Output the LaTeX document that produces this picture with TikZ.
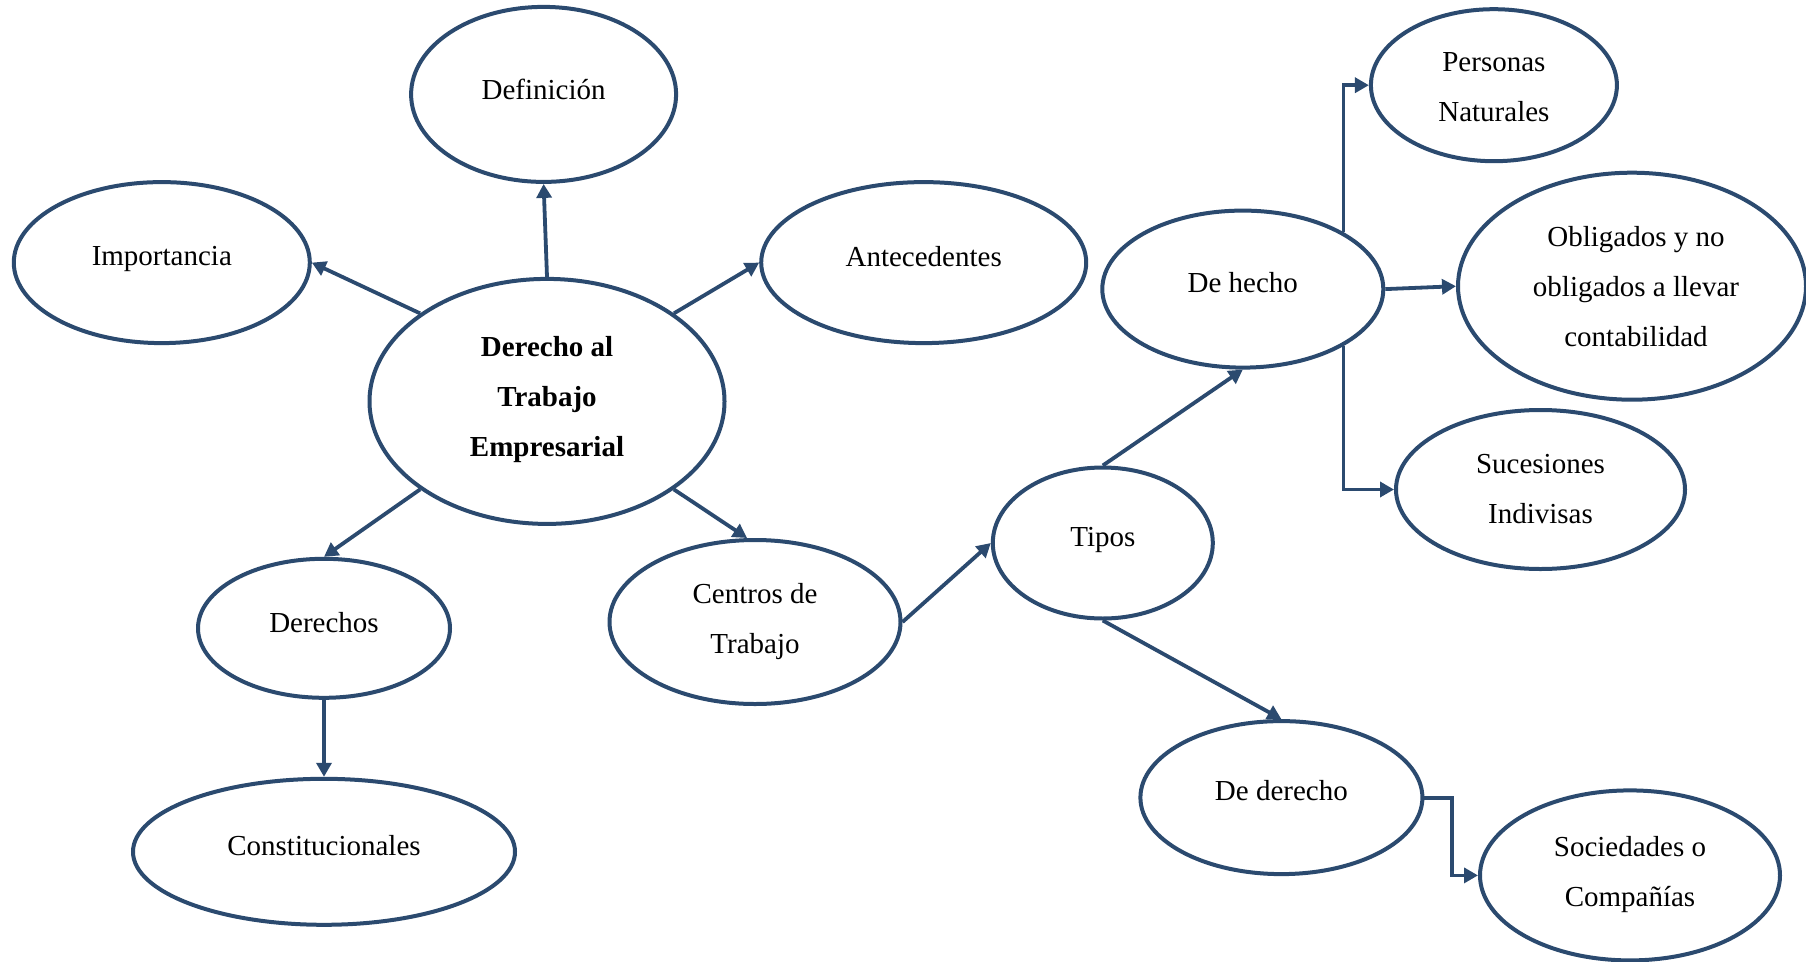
\documentclass[tikz,border=0pt]{standalone}
\usepackage{fontspec}
\setmainfont{Liberation Serif}
\usetikzlibrary{shapes.geometric,arrows.meta}
\definecolor{navy}{HTML}{2B4A6F}
\tikzset{
  bub/.style={draw=navy, line width=4pt, ellipse, inner sep=0pt, fill=white},
  lbl/.style={font=\fontsize{29}{50}\selectfont, align=center, inner sep=0pt, text=black},
  arr/.style={draw=navy, line width=3.8pt, -{Triangle[length=14pt,width=15pt]}},
}
\begin{document}
\begin{tikzpicture}[x=1pt,y=-1pt]
\useasboundingbox (0,0) rectangle (1806,961);
% ellipses
\node[bub, minimum width=265pt, minimum height=175pt] (def) at (543.6,94.4) {};
\node[bub, minimum width=296pt, minimum height=161pt] (imp) at (161.8,262.6) {};
\node[bub, minimum width=355pt, minimum height=245pt] (main) at (547,401.4) {};
\node[bub, minimum width=325pt, minimum height=161pt] (ant) at (923.7,262.6) {};
\node[bub, minimum width=252pt, minimum height=139pt] (der) at (324,628.3) {};
\node[bub, minimum width=382pt, minimum height=146pt] (con) at (324,851.8) {};
\node[bub, minimum width=291pt, minimum height=164pt] (cen) at (755,622) {};
\node[bub, minimum width=220pt, minimum height=151pt] (tip) at (1102.8,543) {};
\node[bub, minimum width=281pt, minimum height=157pt] (dh) at (1242.8,289.1) {};
\node[bub, minimum width=246pt, minimum height=152pt] (pn) at (1493.9,85.2) {};
\node[bub, minimum width=348pt, minimum height=227pt] (ob) at (1632,286.2) {};
\node[bub, minimum width=289pt, minimum height=159pt] (si) at (1540.5,489.5) {};
\node[bub, minimum width=282pt, minimum height=153pt] (dd) at (1281.4,797.6) {};
\node[bub, minimum width=300pt, minimum height=170pt] (so) at (1630,875.4) {};
% labels
\node[lbl] (def-t) at ([yshift=5pt]def.center) {Definición};
\node[lbl] (imp-t) at ([yshift=4pt]imp.center) {Importancia};
\node[lbl, font=\fontsize{29}{50}\selectfont\bfseries] (main-t) at ([yshift=2pt]main.center) {Derecho al\\Trabajo\\Empresarial};
\node[lbl] (ant-t) at ([yshift=6pt]ant.center) {Antecedentes};
\node[lbl] (der-t) at ([yshift=6pt]der.center) {Derechos};
\node[lbl] (con-t) at ([yshift=6pt]con.center) {Constitucionales};
\node[lbl] (cen-t) at (cen.center) {Centros de\\Trabajo};
\node[lbl] (tip-t) at ([yshift=3pt]tip.center) {Tipos};
\node[lbl] (dh-t) at ([yshift=7pt]dh.center) {De hecho};
\node[lbl] (pn-t) at ([yshift=-2pt]pn.center) {Personas\\Naturales};
\node[lbl] (ob-t) at ([xshift=4pt]ob.center) {Obligados y no\\obligados a llevar\\contabilidad};
\node[lbl] (si-t) at (si.center) {Sucesiones\\Indivisas};
\node[lbl] (dd-t) at ([yshift=7pt]dd.center) {De derecho};
\node[lbl] (so-t) at ([yshift=1pt]so.center) {Sociedades o\\Compañías};
% connectors
\coordinate (bend2) at (1452,0);
\draw[arr] (main.north) -- (def.south);
\draw[arr] (main.north west) -- (imp.east);
\draw[arr] (main.north east) -- (ant.west);
\draw[arr] (main.south west) -- (der.north);
\draw[arr] (main.south east) -- ([xshift=-8pt]cen.north);
\draw[arr] (der.south) -- (con.north);
\draw[arr] (cen.east) -- (tip.west);
\draw[arr] (tip.north) -- (dh.south);
\draw[arr] (tip.south) -- (dd.north);
\draw[arr] (dh.north east) |- (pn.west);
\draw[arr] (dh.east) -- (ob.west);
\draw[arr] (dh.south east) |- (si.west);
\draw[arr] (dd.east) -- (dd.east -| bend2) |- (so.west);
\end{tikzpicture}
\end{document}
